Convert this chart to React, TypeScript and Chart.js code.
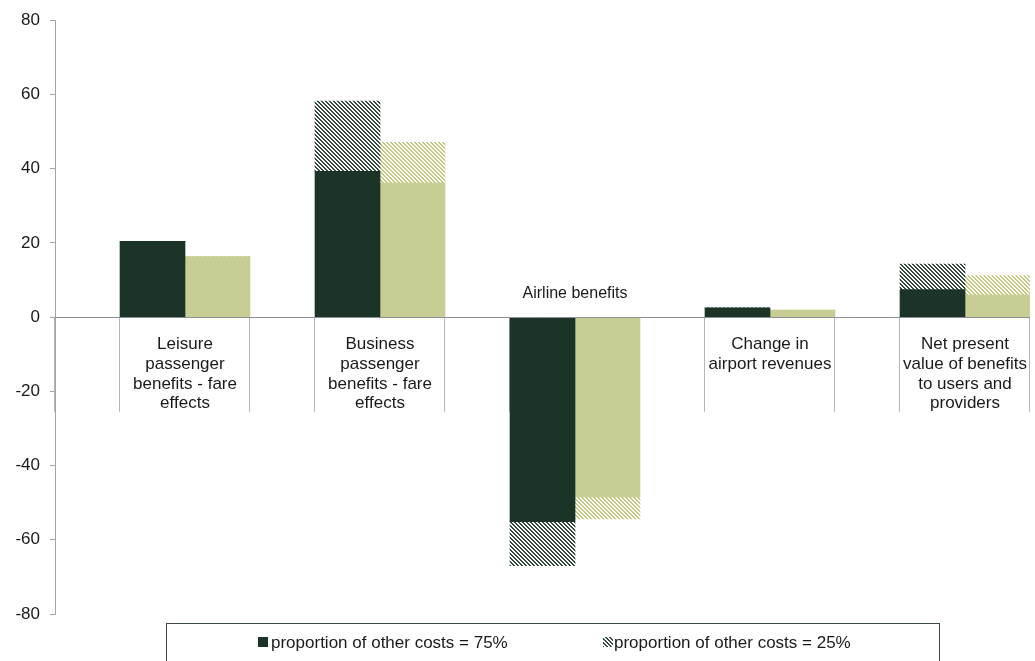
import React, { useEffect, useRef } from "react";
import { Chart, registerables } from "chart.js";

Chart.register(...registerables);

const categoryLabels: string[][] = [
  ["Leisure", "passenger", "benefits - fare", "effects"],
  ["Business", "passenger", "benefits - fare", "effects"],
  ["Airline benefits"],
  ["Change in", "airport revenues"],
  ["Net present", "value of benefits", "to users and", "providers"],
];

// Dark series: proportion of other costs = 75% (solid) plus the extra at 25% (hatched)
const darkBase75 = [20.4, 39.3, -55.1, 2.5, 7.4];
const darkExtra25 = [0, 18.9, -11.9, 0, 6.9];
// Light series: solid part plus the extra at 25% (hatched)
const lightBase75 = [16.3, 36.2, -48.5, 1.9, 6.0];
const lightExtra25 = [0, 10.9, -5.9, 0, 5.2];
const spacer = [0, 0, 0, 0, 0];

const legendLabels = ["proportion of other costs = 75%", "proportion of other costs = 25%"];
const yTicks = { min: -80, max: 80, step: 20 };

const DARK = "#1c3327";
const LIGHT = "#c8cd93";
const FONT = "'Liberation Sans', Arial, sans-serif";

function makeHatch(color: string): CanvasPattern | string {
  const c = document.createElement("canvas");
  c.width = 4;
  c.height = 4;
  const g = c.getContext("2d");
  if (!g) return color;
  g.fillStyle = "#ffffff";
  g.fillRect(0, 0, 4, 4);
  g.fillStyle = color;
  for (let y = 0; y < 4; y++) {
    for (let x = 0; x < 4; x++) {
      const d = (((x - y) % 4) + 4) % 4;
      if (d === 0 || d === 1) g.fillRect(x, y, 1, 1);
    }
  }
  const p = g.createPattern(c, "repeat");
  return p || color;
}

export default function App() {
  const ref = useRef<HTMLCanvasElement | null>(null);

  useEffect(() => {
    document.body.style.margin = "0";
    const canvas = ref.current;
    if (!canvas) return;
    const darkHatch = makeHatch("#34493d");
    const lightHatch = makeHatch("#c2c97f");

    const overlay = {
      id: "overlay",
      beforeDatasetsDraw(chart: any) {
        const { ctx, chartArea } = chart;
        const y = chart.scales.y;
        const y0 = y.getPixelForValue(0);
        const yb = y.getPixelForValue(-25.5);
        const n = categoryLabels.length;
        const w = (chartArea.right - chartArea.left) / n;
        ctx.save();
        ctx.strokeStyle = "#b4b4bc";
        ctx.lineWidth = 1;
        const xs: number[] = [];
        for (let i = 0; i <= n; i++) xs.push(chartArea.left + i * w);
        const dm = chart.getDatasetMeta(1);
        dm.data.forEach((el: any) => xs.push(el.x - el.width / 2));
        xs.forEach((x) => {
          const px = Math.round(x) - 0.5;
          ctx.beginPath();
          ctx.moveTo(px, y0);
          ctx.lineTo(px, yb);
          ctx.stroke();
        });
        ctx.restore();
      },
      afterDatasetsDraw(chart: any) {
        const { ctx, chartArea } = chart;
        const y = chart.scales.y;
        const y0 = Math.round(y.getPixelForValue(0)) + 0.5;
        ctx.save();
        ctx.strokeStyle = "#8e8e96";
        ctx.lineWidth = 1;
        ctx.beginPath();
        ctx.moveTo(chartArea.left, y0);
        ctx.lineTo(chartArea.right, y0);
        ctx.stroke();

        // category labels
        const dm = chart.getDatasetMeta(1);
        const lm = chart.getDatasetMeta(3);
        ctx.fillStyle = "#1a1a1a";
        ctx.textAlign = "center";
        ctx.textBaseline = "middle";
        categoryLabels.forEach((lines, i) => {
          const cx = (dm.data[i].x + lm.data[i].x) / 2;
          if (darkBase75[i] < 0) {
            ctx.font = `16px ${FONT}`;
            ctx.fillText(lines.join(" "), cx, y0 - 24);
          } else {
            ctx.font = `17px ${FONT}`;
            lines.forEach((t, k) => ctx.fillText(t, cx, y0 + 27 + k * 19.7));
          }
        });

        // legend box
        ctx.strokeStyle = "#3c4a42";
        ctx.lineWidth = 1;
        ctx.strokeRect(166.5, 623.5, 773, 60);
        ctx.textAlign = "left";
        ctx.font = `17px ${FONT}`;
        ctx.fillStyle = DARK;
        ctx.fillRect(258, 637, 10, 10);
        ctx.fillStyle = "#1a1a1a";
        ctx.fillText(legendLabels[0], 271, 643);
        ctx.fillStyle = darkHatch as any;
        ctx.fillRect(603, 637, 10, 10);
        ctx.fillStyle = "#1a1a1a";
        ctx.fillText(legendLabels[1], 614, 643);
        ctx.restore();
      },
    };

    const chart = new Chart(canvas, {
      type: "bar",
      data: {
        labels: categoryLabels.map((l) => l.join(" ")),
        datasets: [
          { label: "spacer", data: spacer, stack: "s", backgroundColor: "rgba(0,0,0,0)" },
          { label: legendLabels[0], data: darkBase75, stack: "d", backgroundColor: DARK },
          { label: legendLabels[1], data: darkExtra25, stack: "d", backgroundColor: darkHatch as any },
          { label: "light 75%", data: lightBase75, stack: "l", backgroundColor: LIGHT },
          { label: "light 25%", data: lightExtra25, stack: "l", backgroundColor: lightHatch as any },
        ],
      },
      options: {
        responsive: false,
        animation: false,
        layout: { padding: { top: 19, bottom: 47, right: 5, left: 0 } },
        datasets: { bar: { categoryPercentage: 1, barPercentage: 1, borderWidth: 0 } },
        plugins: { legend: { display: false }, tooltip: { enabled: false } },
        scales: {
          x: { stacked: true, display: false },
          y: {
            stacked: true,
            min: yTicks.min,
            max: yTicks.max,
            afterFit: (s: any) => {
              s.width = 55;
            },
            ticks: {
              stepSize: yTicks.step,
              padding: 10,
              color: "#1a1a1a",
              font: { family: FONT, size: 17 },
            },
            grid: { drawOnChartArea: false, drawTicks: true, tickLength: 5, color: "#a4a4ac" },
            border: { display: true, color: "#a4a4ac" },
          },
        },
      },
      plugins: [overlay],
    });
    return () => chart.destroy();
  }, []);

  return <canvas ref={ref} width={1035} height={661} style={{ display: "block" }} />;
}
